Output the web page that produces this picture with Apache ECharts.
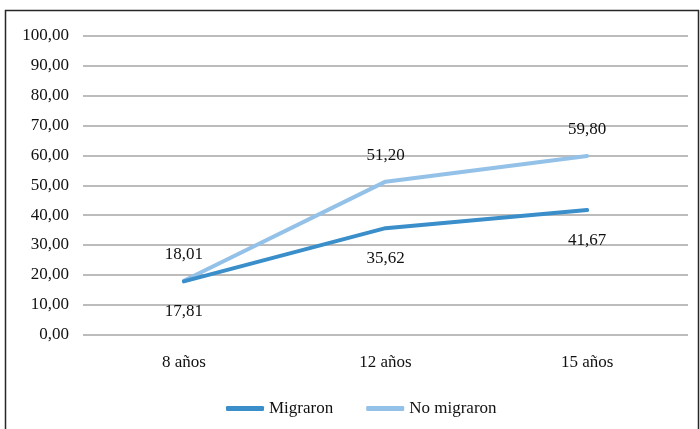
<!DOCTYPE html>
<html>
<head>
<meta charset="utf-8">
<script src="https://cdn.jsdelivr.net/npm/echarts@6/dist/echarts.min.js"></script>
<style>
  html, body { margin: 0; padding: 0; background: #fff; }
  #chart { width: 700px; height: 429px; }
</style>
</head>
<body>
<div id="chart"></div>
<script>
// Edades de seguimiento
const categories = ['8 años', '12 años', '15 años'];
// Valores por grupo
const migraron = [17.81, 35.62, 41.67];
const noMigraron = [18.01, 51.20, 59.80];
const seriesNames = ['Migraron', 'No migraron'];

const FONT = '"Liberation Serif", "DejaVu Serif", serif';
const FS = 17;
const fmt = v => v.toFixed(2).replace('.', ',');

const chart = echarts.init(document.getElementById('chart'), null, { renderer: 'canvas' });
chart.setOption({
  backgroundColor: '#ffffff',
  animation: false,
  textStyle: { fontFamily: FONT },
  graphic: [{
    type: 'rect',
    shape: { x: 5.5, y: 10.5, width: 693, height: 440 },
    style: { fill: 'none', stroke: '#262626', lineWidth: 1.5 },
    silent: true
  }],
  grid: { left: 83, right: 12, top: 36, bottom: 94.5, containLabel: false },
  legend: {
    left: 221,
    top: 395,
    itemWidth: 38,
    itemHeight: 5,
    itemGap: 33,
    icon: 'roundRect',
    textStyle: { fontFamily: FONT, fontSize: FS, color: '#111' },
    data: seriesNames
  },
  xAxis: {
    type: 'category',
    data: categories,
    boundaryGap: true,
    axisLine: { show: false },
    axisTick: { show: false },
    axisLabel: { fontFamily: FONT, fontSize: FS, color: '#111', margin: 20 }
  },
  yAxis: {
    type: 'value',
    min: 0,
    max: 100,
    interval: 10,
    axisLine: { show: false },
    axisTick: { show: false },
    axisLabel: {
      fontFamily: FONT, fontSize: FS, color: '#111', margin: 14,
      formatter: v => fmt(v)
    },
    splitLine: { lineStyle: { color: '#a6a6a6', width: 1.5 } }
  },
  series: [
    {
      name: seriesNames[0],
      type: 'line',
      data: migraron,
      symbol: 'circle',
      symbolSize: 1,
      showSymbol: true,
      lineStyle: { color: '#3a8fcb', width: 4, cap: 'round' },
      itemStyle: { color: '#3a8fcb' },
      label: {
        show: true, position: 'bottom', distance: 21,
        fontFamily: FONT, fontSize: FS, color: '#111',
        formatter: p => fmt(p.value)
      },
      z: 3
    },
    {
      name: seriesNames[1],
      type: 'line',
      data: noMigraron,
      symbol: 'circle',
      symbolSize: 1,
      showSymbol: true,
      lineStyle: { color: '#94c1e7', width: 4, cap: 'round' },
      itemStyle: { color: '#94c1e7' },
      label: {
        show: true, position: 'top', distance: 17,
        fontFamily: FONT, fontSize: FS, color: '#111',
        formatter: p => fmt(p.value)
      },
      z: 2
    }
  ]
});
</script>
</body>
</html>
